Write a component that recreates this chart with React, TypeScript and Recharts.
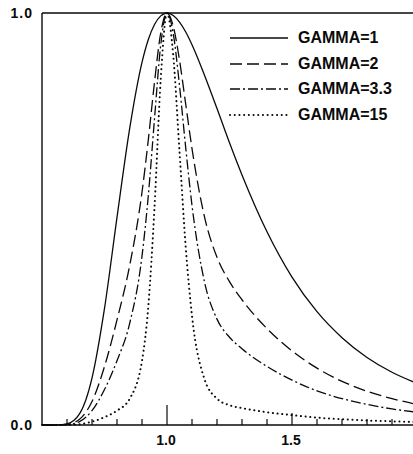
import { LineChart, Line, XAxis, YAxis, ReferenceLine, Legend } from 'recharts';

// frequency normalised by peak frequency, spectra normalised by peak value
const FREQ = [0.5, 0.55, 0.6, 0.65, 0.7, 0.75, 0.8, 0.85, 0.9, 0.925, 0.95, 0.975, 1.0, 1.025, 1.05, 1.075, 1.1, 1.15, 1.2, 1.25, 1.3, 1.4, 1.5, 1.6, 1.7, 1.8, 1.9, 2.0];
const GAMMA_1 = [0, 0, 0.003, 0.027, 0.114, 0.283, 0.504, 0.717, 0.88, 0.935, 0.972, 0.993, 1, 0.994, 0.978, 0.954, 0.923, 0.849, 0.768, 0.685, 0.607, 0.469, 0.359, 0.275, 0.212, 0.164, 0.128, 0.101];
const GAMMA_2 = [0, 0, 0.0015, 0.014, 0.057, 0.142, 0.255, 0.385, 0.565, 0.691, 0.832, 0.952, 1, 0.968, 0.886, 0.778, 0.671, 0.505, 0.407, 0.348, 0.304, 0.234, 0.18, 0.138, 0.106, 0.082, 0.064, 0.05];
const GAMMA_33 = [0, 0, 0.001, 0.008, 0.035, 0.086, 0.156, 0.245, 0.41, 0.555, 0.743, 0.923, 1, 0.95, 0.824, 0.672, 0.533, 0.347, 0.257, 0.213, 0.185, 0.142, 0.109, 0.083, 0.064, 0.05, 0.039, 0.031];
const GAMMA_15 = [0, 0, 0, 0.002, 0.008, 0.019, 0.035, 0.063, 0.156, 0.286, 0.528, 0.84, 1, 0.897, 0.664, 0.431, 0.265, 0.111, 0.064, 0.048, 0.041, 0.031, 0.024, 0.018, 0.014, 0.011, 0.009, 0.007];

const X_TICKS = [0.6, 0.7, 0.8, 0.9, 1.0, 1.1, 1.2, 1.3, 1.4, 1.5, 1.6, 1.7, 1.8, 1.9];
const X_LABELS = [1.0, 1.5];
const Y_TICKS = [0, 1];

const SERIES = [
  { key: 'g1', name: 'GAMMA=1', dash: undefined as string | undefined, width: 1.3, cap: 'butt' },
  { key: 'g2', name: 'GAMMA=2', dash: '12 5', width: 1.3, cap: 'butt' },
  { key: 'g33', name: 'GAMMA=3.3', dash: '10 3 2 3', width: 1.3, cap: 'butt' },
  { key: 'g15', name: 'GAMMA=15', dash: '0.1 4.6', width: 2, cap: 'round' },
];

const data = FREQ.map((f, i) => ({
  f,
  g1: GAMMA_1[i],
  g2: GAMMA_2[i],
  g33: GAMMA_33[i],
  g15: GAMMA_15[i],
}));

const INK = '#0a0a0a';
const FONT = '"Liberation Sans", Arial, sans-serif';

function XTick({ x, y, payload }: any) {
  const v = payload.value;
  const len = v === 1 ? 20 : v === 1.5 ? 12 : 6;
  return (
    <g>
      <line x1={x} x2={x} y1={y} y2={y - len} stroke={INK} strokeWidth={1.2} />
      {X_LABELS.includes(v) && (
        <text x={x - 1} y={y + 20} textAnchor="middle" fontFamily={FONT} fontWeight="bold" fontSize={14} fill={INK}>
          {v.toFixed(1)}
        </text>
      )}
    </g>
  );
}

function YTick({ x, y, payload }: any) {
  return (
    <text x={x - 9} y={y + 5} textAnchor="end" fontFamily={FONT} fontWeight="bold" fontSize={14} letterSpacing={1} fill={INK}>
      {payload.value.toFixed(1)}
    </text>
  );
}

function LegendBox() {
  return (
    <div style={{ fontFamily: FONT, fontWeight: 'bold', fontSize: 16, color: INK }}>
      {SERIES.map((s) => (
        <div key={s.key} style={{ display: 'flex', alignItems: 'center', height: 25.7 }}>
          <svg width={70} height={10}>
            <line
              x1={2}
              x2={60}
              y1={5}
              y2={5}
              stroke={INK}
              strokeWidth={s.width}
              strokeDasharray={s.dash}
              strokeLinecap={s.cap as any}
            />
          </svg>
          <span>{s.name}</span>
        </div>
      ))}
    </div>
  );
}

export default function App() {
  return (
    <div style={{ position: 'absolute', left: 0, top: 0, width: 413, height: 454, overflow: 'hidden', background: '#fff' }}>
      <LineChart width={420} height={454} data={data} margin={{ top: 13, right: 3, left: 0, bottom: 0 }}>
        <XAxis
          dataKey="f"
          type="number"
          domain={[0.5, 2.0]}
          ticks={X_TICKS}
          interval={0}
          tickSize={0}
          tickMargin={0}
          tickLine={false}
          height={29}
          axisLine={{ stroke: INK, strokeWidth: 1.4 }}
          tick={<XTick />}
        />
        <YAxis
          type="number"
          domain={[0, 1]}
          ticks={Y_TICKS}
          width={42}
          tickSize={0}
          tickMargin={0}
          tickLine={false}
          axisLine={{ stroke: INK, strokeWidth: 1.4 }}
          tick={<YTick />}
        />
        <ReferenceLine y={1} stroke={INK} strokeWidth={1.4} />
        <Legend
          layout="vertical"
          align="center"
          verticalAlign="middle"
          wrapperStyle={{ top: 25, left: 228, width: 'auto' }}
          content={<LegendBox />}
        />
        {SERIES.map((s) => (
          <Line
            key={s.key}
            dataKey={s.key}
            name={s.name}
            type="monotone"
            stroke={INK}
            strokeWidth={s.width}
            strokeDasharray={s.dash}
            strokeLinecap={s.cap as any}
            dot={false}
            activeDot={false}
            isAnimationActive={false}
          />
        ))}
      </LineChart>
    </div>
  );
}
